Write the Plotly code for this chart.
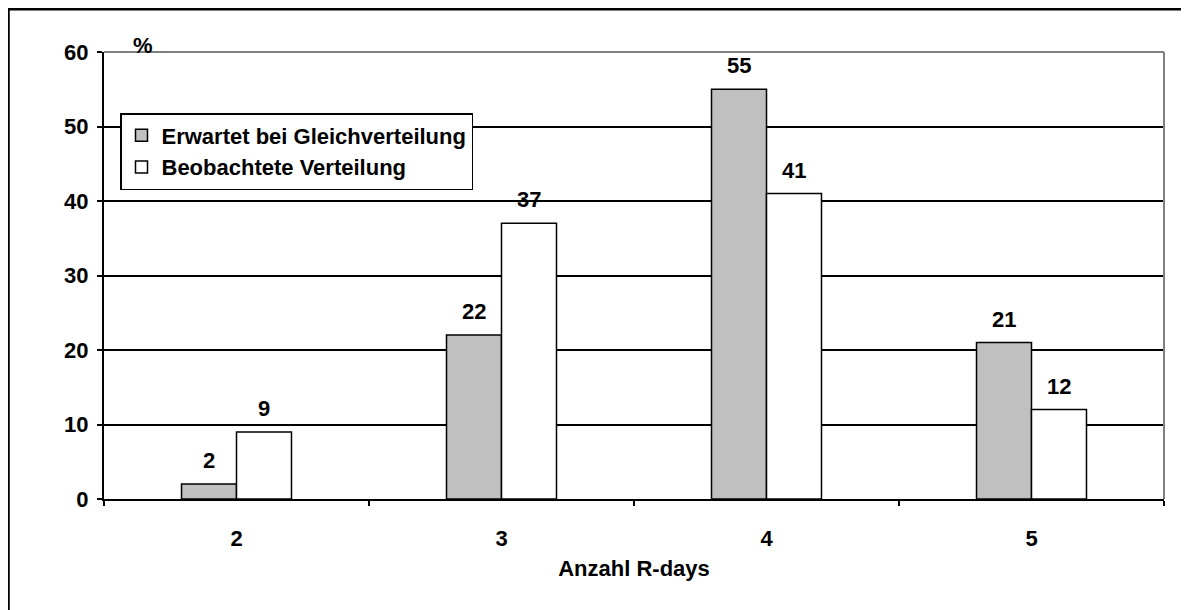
import plotly.graph_objects as go

categories = ["2", "3", "4", "5"]
expected = [2, 22, 55, 21]
observed = [9, 37, 41, 12]
series_names = ["Erwartet bei Gleichverteilung", "Beobachtete Verteilung"]
y_ticks = [0, 10, 20, 30, 40, 50, 60]

# page has an 8px body margin; figure sized to fit the 1189x610 window
OFF = 8
W, H = 1181, 602
L, T = 96, 44
R = W - (1164 - OFF)
B = H - (499 - OFF)
pw, ph = W - L - R, H - T - B

FONT = "Liberation Sans, Arial, sans-serif"
FS = 22
bold = dict(family=FONT, size=FS, color="black", weight="bold")


def px2x(px):
    return (px - OFF - L) / pw


def py2y(py):
    return (H - B - (py - OFF)) / ph


fig = go.Figure()
for name, vals, col in [(series_names[0], expected, "#C0C0C0"),
                        (series_names[1], observed, "#FFFFFF")]:
    fig.add_trace(go.Bar(
        x=categories, y=vals, name=name,
        marker=dict(color=col, line=dict(color="black", width=1.5)),
    ))

bargap = 0.585
bar_px = pw / len(categories) * (1 - bargap) / 2

annotations = []
for vals, sign in [(expected, -1), (observed, 1)]:
    for i, v in enumerate(vals):
        annotations.append(dict(
            x=i, y=v, xref="x", yref="y", text=str(v), showarrow=False,
            xanchor="center", yanchor="bottom", xshift=sign * bar_px / 2,
            yshift=9, font=bold))

annotations.append(dict(text="%", xref="paper", yref="paper", x=px2x(143), y=1,
                        xanchor="center", yanchor="middle", showarrow=False,
                        font=bold, yshift=7))

fig.update_layout(
    width=W, height=H,
    margin=dict(l=L, r=R, t=T, b=B, pad=0),
    paper_bgcolor="white", plot_bgcolor="white",
    barmode="group", bargap=bargap, bargroupgap=0,
    font=bold,
    showlegend=True,
    legend=dict(x=px2x(120), y=py2y(113), xanchor="left", yanchor="top",
                bgcolor="white", bordercolor="black", borderwidth=1.5,
                font=bold, traceorder="normal"),
    xaxis=dict(type="category", range=[-0.5, len(categories) - 0.5],
               showline=True, linecolor="black", linewidth=2,
               ticks="outside", ticklen=5, tickcolor="black", tickwidth=1.5,
               tickson="boundaries", showgrid=False, tickfont=bold,
               ticklabelstandoff=19,
               title=dict(text="Anzahl R-days", font=bold, standoff=10)),
    yaxis=dict(range=[0, 60], tickvals=y_ticks, showline=True, linecolor="black",
               linewidth=2, ticks="outside", ticklen=5, tickcolor="black",
               tickwidth=1.5, showgrid=True, gridcolor="black", gridwidth=1.5,
               tickfont=bold, zeroline=False, ticklabelstandoff=4),
    annotations=annotations,
    shapes=[
        dict(type="line", xref="paper", yref="paper", x0=0, x1=1, y0=1, y1=1,
             line=dict(color="#808080", width=2)),
        dict(type="line", xref="paper", yref="paper", x0=1, x1=1, y0=0, y1=1,
             line=dict(color="#808080", width=2)),
        dict(type="rect", xref="paper", yref="paper",
             x0=px2x(8.5), x1=px2x(1200), y0=py2y(9.3), y1=py2y(625),
             line=dict(color="black", width=2.5), layer="below"),
    ],
)

fig.write_html("out.html")
